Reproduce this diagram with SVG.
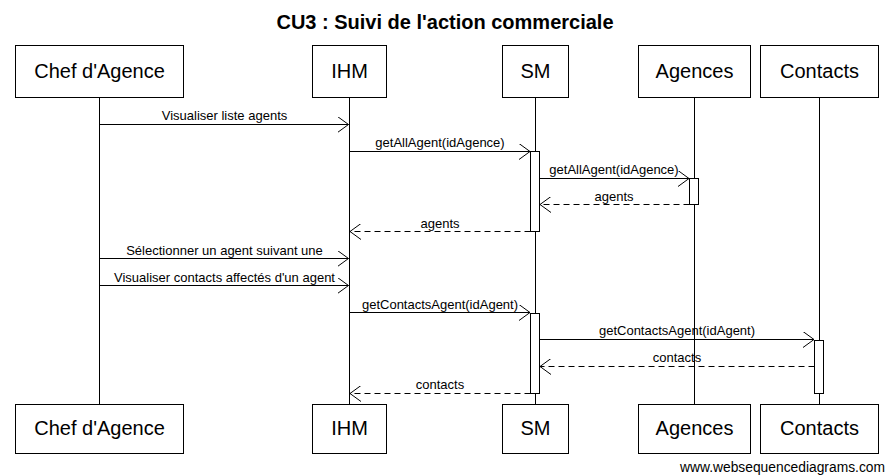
<svg xmlns="http://www.w3.org/2000/svg" width="890" height="476" viewBox="0 0 890 476">
<style>
.box{fill:#fff;stroke:#000;stroke-width:1}
.bl{font-family:"Liberation Sans",Arial,sans-serif;font-size:20px;text-anchor:middle}
.ml{font-family:"Liberation Sans",Arial,sans-serif;font-size:13px;text-anchor:middle}
.life{stroke:#000;stroke-width:1}
.msg{stroke:#000;stroke-width:1;fill:none}
.ret{stroke:#000;stroke-width:1;fill:none;stroke-dasharray:6,4}
.act{fill:#fff;stroke:#000;stroke-width:1}
</style>
<defs>
<marker id="ah" viewBox="0 0 12 16" refX="11" refY="8" markerWidth="12" markerHeight="16" markerUnits="userSpaceOnUse" orient="auto">
<path d="M0,0 L11,8 L0,16" fill="none" stroke="#000" stroke-width="1"/>
</marker>
</defs>
<rect width="890" height="476" fill="#fff"/>
<text x="445" y="29" font-family="Liberation Sans,Arial,sans-serif" font-size="20" font-weight="bold" text-anchor="middle">CU3 : Suivi de l'action commerciale</text>
<g id="lifelines">
<line class="life" x1="99.5" y1="97" x2="99.5" y2="404"/>
<line class="life" x1="349.5" y1="97" x2="349.5" y2="404"/>
<line class="life" x1="535.5" y1="97" x2="535.5" y2="404"/>
<line class="life" x1="694.5" y1="97" x2="694.5" y2="404"/>
<line class="life" x1="819.5" y1="97" x2="819.5" y2="404"/>
</g>
<g id="activations">
<rect class="act" x="530.5" y="151.5" width="9" height="80"/>
<rect class="act" x="689.5" y="178.5" width="9" height="26"/>
<rect class="act" x="530.5" y="313.5" width="9" height="80"/>
<rect class="act" x="814.5" y="340.5" width="9" height="53"/>
</g>
<g id="node-chef">
<rect class="box" x="15.5" y="45.5" width="168" height="52"/>
<text class="bl" x="99.5" y="78">Chef d'Agence</text>
<rect class="box" x="15.5" y="404.5" width="168" height="49"/>
<text class="bl" x="99.5" y="435">Chef d'Agence</text>
</g>
<g id="node-ihm">
<rect class="box" x="312.5" y="45.5" width="74" height="52"/>
<text class="bl" x="349.5" y="78">IHM</text>
<rect class="box" x="312.5" y="404.5" width="74" height="49"/>
<text class="bl" x="349.5" y="435">IHM</text>
</g>
<g id="node-sm">
<rect class="box" x="502.5" y="45.5" width="66" height="52"/>
<text class="bl" x="535.5" y="78">SM</text>
<rect class="box" x="502.5" y="404.5" width="66" height="49"/>
<text class="bl" x="535.5" y="435">SM</text>
</g>
<g id="node-agences">
<rect class="box" x="638.5" y="45.5" width="112" height="52"/>
<text class="bl" x="694.5" y="78">Agences</text>
<rect class="box" x="638.5" y="404.5" width="112" height="49"/>
<text class="bl" x="694.5" y="435">Agences</text>
</g>
<g id="node-contacts">
<rect class="box" x="760.5" y="45.5" width="118" height="52"/>
<text class="bl" x="819.5" y="78">Contacts</text>
<rect class="box" x="760.5" y="404.5" width="118" height="49"/>
<text class="bl" x="819.5" y="435">Contacts</text>
</g>
<g id="connectors">
<line class="msg" x1="99.5" y1="124.5" x2="348.5" y2="124.5" marker-end="url(#ah)"/>
<text class="ml" x="224.5" y="120">Visualiser liste agents</text>
<line class="msg" x1="349.5" y1="151.5" x2="530" y2="151.5" marker-end="url(#ah)"/>
<text class="ml" x="440" y="147">getAllAgent(idAgence)</text>
<line class="msg" x1="539.5" y1="178.5" x2="689" y2="178.5" marker-end="url(#ah)"/>
<text class="ml" x="614" y="174">getAllAgent(idAgence)</text>
<line class="ret" x1="689.5" y1="204.5" x2="540" y2="204.5" marker-end="url(#ah)"/>
<text class="ml" x="614" y="201">agents</text>
<line class="ret" x1="530.5" y1="231.5" x2="350" y2="231.5" marker-end="url(#ah)"/>
<text class="ml" x="440" y="228">agents</text>
<line class="msg" x1="99.5" y1="258.5" x2="348.5" y2="258.5" marker-end="url(#ah)"/>
<text class="ml" x="224.5" y="255">Sélectionner un agent suivant une</text>
<line class="msg" x1="99.5" y1="285.5" x2="348.5" y2="285.5" marker-end="url(#ah)"/>
<text class="ml" x="224.5" y="282">Visualiser contacts affectés d'un agent</text>
<line class="msg" x1="349.5" y1="312.5" x2="530" y2="312.5" marker-end="url(#ah)"/>
<text class="ml" x="440" y="309">getContactsAgent(idAgent)</text>
<line class="msg" x1="539.5" y1="339.5" x2="814" y2="339.5" marker-end="url(#ah)"/>
<text class="ml" x="677" y="335">getContactsAgent(idAgent)</text>
<line class="ret" x1="814.5" y1="366.5" x2="540" y2="366.5" marker-end="url(#ah)"/>
<text class="ml" x="677" y="362">contacts</text>
<line class="ret" x1="530.5" y1="393.5" x2="350" y2="393.5" marker-end="url(#ah)"/>
<text class="ml" x="440" y="389">contacts</text>
</g>
<text x="885" y="472" font-family="Liberation Sans,Arial,sans-serif" font-size="14" text-anchor="end" textLength="205" lengthAdjust="spacingAndGlyphs">www.websequencediagrams.com</text>
</svg>
